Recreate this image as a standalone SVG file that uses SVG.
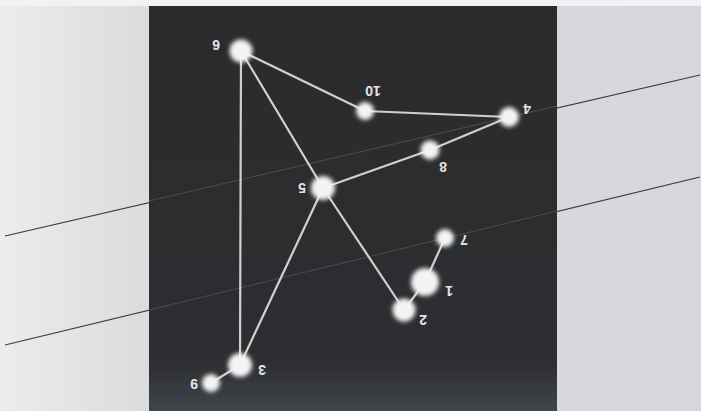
<svg xmlns="http://www.w3.org/2000/svg" width="701" height="411" viewBox="0 0 701 411">
<style>
.edge{stroke:#d0d0d0;stroke-width:2.2;fill:none;stroke-linecap:round}
.node{fill:#f4f4f4;filter:url(#glow)}
.lbl{font-family:"Liberation Sans",Arial,sans-serif;font-weight:bold;font-size:14px;fill:#e4e4e4;text-anchor:middle;dominant-baseline:central}
.rule{stroke:#3a3a40;stroke-width:1.2;fill:none}
.rulein{stroke:#8a8a90;stroke-width:1;fill:none;opacity:0.35}
</style>
<defs>
<linearGradient id="paper" x1="0" y1="0" x2="1" y2="0">
<stop offset="0" stop-color="#ececee"/>
<stop offset="0.2" stop-color="#dcdcdf"/>
<stop offset="1" stop-color="#d6d7db"/>
</linearGradient>
<linearGradient id="panel" x1="0" y1="0" x2="0" y2="1">
<stop offset="0" stop-color="#2b2b2d"/>
<stop offset="0.88" stop-color="#2d2e31"/>
<stop offset="1" stop-color="#40454d"/>
</linearGradient>
<filter id="glow" x="-60%" y="-60%" width="220%" height="220%">
<feGaussianBlur stdDeviation="2"/>
</filter>
<filter id="soft" x="-5%" y="-5%" width="110%" height="110%">
<feGaussianBlur stdDeviation="0.5"/>
</filter>
</defs>
<rect x="0" y="0" width="701" height="411" fill="url(#paper)"/>
<rect x="0" y="0" width="701" height="6" fill="#f2f2f4"/>
<line class="rule" x1="5" y1="236" x2="700" y2="75"/>
<line class="rule" x1="5" y1="345" x2="700" y2="177"/>
<rect x="149" y="6" width="408" height="405" fill="url(#panel)"/>
<line class="rulein" x1="149" y1="201" x2="557" y2="106"/>
<line class="rulein" x1="149" y1="310" x2="557" y2="211"/>
<g id="connectors" filter="url(#soft)">
<line class="edge" x1="241" y1="51" x2="365" y2="111"/>
<line class="edge" x1="365" y1="111" x2="509" y2="117"/>
<line class="edge" x1="241" y1="51" x2="323" y2="188"/>
<line class="edge" x1="241" y1="51" x2="240" y2="365"/>
<line class="edge" x1="323" y1="188" x2="430" y2="150"/>
<line class="edge" x1="430" y1="150" x2="509" y2="117"/>
<line class="edge" x1="323" y1="188" x2="240" y2="365"/>
<line class="edge" x1="323" y1="188" x2="404" y2="310"/>
<line class="edge" x1="404" y1="310" x2="425" y2="282"/>
<line class="edge" x1="425" y1="282" x2="445" y2="238"/>
<line class="edge" x1="240" y1="365" x2="211" y2="383"/>
</g>
<g id="n6"><circle class="node" cx="241" cy="51" r="11.5"/><text class="lbl" transform="translate(216,45) rotate(180)">6</text></g>
<g id="n10"><circle class="node" cx="365" cy="111" r="9"/><text class="lbl" transform="translate(373,91) rotate(180)">10</text></g>
<g id="n4"><circle class="node" cx="509" cy="117" r="10"/><text class="lbl" transform="translate(527,109) rotate(180)">4</text></g>
<g id="n8"><circle class="node" cx="430" cy="150" r="9.5"/><text class="lbl" transform="translate(443,167) rotate(180)">8</text></g>
<g id="n5"><circle class="node" cx="323" cy="188" r="12"/><text class="lbl" transform="translate(302,188) rotate(180)">5</text></g>
<g id="n7"><circle class="node" cx="445" cy="238" r="9"/><text class="lbl" transform="translate(464,240) rotate(180)">7</text></g>
<g id="n1"><circle class="node" cx="425" cy="282" r="14"/><text class="lbl" transform="translate(449,291) rotate(180)">1</text></g>
<g id="n2"><circle class="node" cx="404" cy="310" r="11.5"/><text class="lbl" transform="translate(423,320) rotate(180)">2</text></g>
<g id="n3"><circle class="node" cx="240" cy="365" r="12"/><text class="lbl" transform="translate(262,370) rotate(180)">3</text></g>
<g id="n9"><circle class="node" cx="211" cy="383" r="9"/><text class="lbl" transform="translate(194,384) rotate(180)">9</text></g>
</svg>
